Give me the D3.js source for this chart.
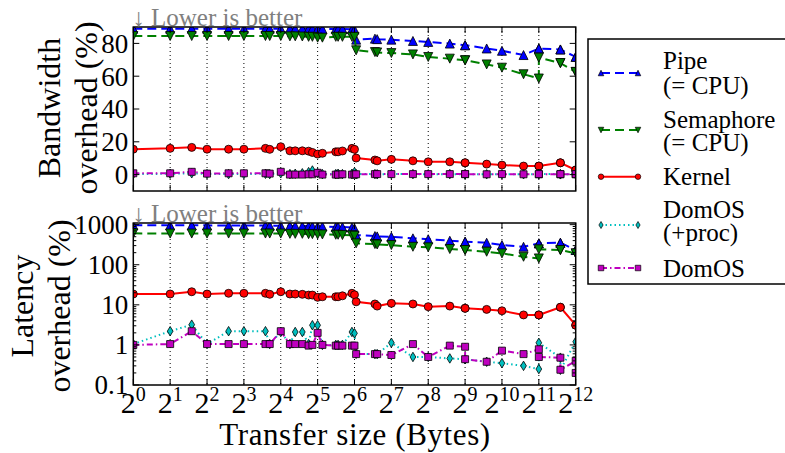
<!DOCTYPE html>
<html>
<head>
<meta charset="utf-8">
<script src="https://d3js.org/d3.v7.min.js"></script>
<style>
  body { margin: 0; background: #fff; }
  svg { display: block; }
  text, tspan { font-family: "Liberation Serif", "Times New Roman", serif; }
</style>
</head>
<body>
<svg id="chart" width="785" height="453" font-family="Liberation Serif, serif"></svg>
<script>
"use strict"

// transfer sizes in bytes (some sizes measured twice)
const sizes = [1, 2, 3, 4, 6, 8, 12, 13, 16, 19, 21, 24, 27, 29, 32, 35, 45, 47, 51, 61, 64, 66,
    94, 98, 128, 192, 256, 384, 512, 512, 768, 1024, 1536, 2048, 2048, 3072, 3072, 4096, 4096]

// bandwidth overhead (%)
const pipeBw = [89, 89, 89, 89, 89, 89, 89, 89, 89, 89, 89, 89, 89, 89, 88.8, 88.8, 88.8, 88.8, 88.8, 88.6, 88.4,
    82.3, 82.9, 82.6, 82.3, 81.5, 80.9, 79.9, 78.9, 78.9, 76.9, 75.5, 72.9, 76.9, 76.9, 76.3, 76.3, 71.8, 71.8]
const semaBw = [84.5, 84.5, 84.5, 84.5, 84.5, 84.5, 84.5, 84.5, 84.5, 84.3, 84.3, 84.2, 84, 84, 83.5, 83.5, 84, 84, 84, 84, 84,
    75.8, 74.7, 74.5, 74.1, 73.3, 71.7, 70.7, 69.7, 69.7, 67.2, 65.2, 61.2, 58.6, 71.3, 68, 68, 62.6, 62.6]
const kernelBw = [15.5, 16, 16.6, 15.5, 15.5, 15.5, 16, 15.4, 17, 14.5, 14.5, 14.5, 14.3, 13.5, 12.5, 13, 13.9, 13.9, 14.4, 16, 15.4,
    10.1, 8.9, 8.4, 9.3, 8.4, 7.8, 7.8, 7.2, 7.2, 6.4, 5.8, 5.2, 5.2, 5.2, 7.2, 7.2, 2.8, 2.8]
const domosProcBw = [0.3, 0.5, 0.8, 0.3, 0.3, 0.3, 0.5, 0.3, 0.8, 0.3, 0.5, 0.8, 1.5, 2.5, 1, 0.3, 0.3, 0.5, 0.3, 0.5, 1.5,
    0.3, 0.3, 0.2, 0.3, 0.3, 0.2, 0.3, 0.2, 0.2, 0.2, 0.2, 0.2, 0.2, 0.5, 0.2, 0.2, 0.2, 0.2]
const domosBw = [0.8, 0.8, 1.7, 0.6, 0.8, 0.8, 0.8, 0.6, 1.7, 0, 0, 0, 0.2, 0.2, 1.1, 0, 0, 0, 0.2, 0, 0,
    0.2, 0.3, 0.3, 0.3, 0.3, 0.3, 0.3, 0.3, 0.3, 0.2, 0.3, 0.2, 0.2, 0.3, 0.2, 0.3, 0.2, 0.3]

// latency overhead (%)
const pipeLat = [970, 960, 960, 960, 950, 950, 950, 940, 940, 930, 930, 920, 920, 910, 900, 900, 880, 880, 870, 850, 810,
    549, 520, 510, 499, 456, 434, 397, 375, 375, 354, 310, 281, 342, 342, 354, 354, 233, 233]
const semaLat = [607, 600, 600, 600, 600, 600, 600, 600, 600, 590, 590, 590, 580, 580, 570, 570, 560, 560, 550, 545, 530,
    342, 328, 320, 310, 281, 272, 247, 233, 233, 211, 192, 158, 144, 242, 233, 233, 192, 192]
const kernelLat = [18.6, 18.6, 21.2, 18.6, 19.4, 19.4, 19.4, 18.3, 21.2, 18.6, 18.6, 18.3, 17.5, 17.5, 15.4, 15.9, 15.9, 15.9, 16.8, 19.4, 17.8,
    11.9, 10.5, 9.3, 10.9, 10.5, 9.0, 9.3, 8.2, 8.2, 7.7, 7.1, 5.6, 5.6, 5.6, 8.7, 8.7, 3.1, 3.1]
const domosProcLat = [1.05, 2.2, 3.2, 1.05, 2.2, 2.2, 2.2, 1.05, 2.1, 1.05, 2.1, 2.1, 1.05, 3.1, 3.1, 1.0, 1.0, 1.0, 1.0, 2.1, 1.95,
    0.6, 0.59, 0.59, 1.13, 0.5, 0.5, 0.46, 0.44, 0.44, 0.38, 0.35, 0.3, 0.25, 1.13, 0.48, 0.24, 1.2, 0.2]
const domosLat = [1.0, 1.05, 2.2, 1.05, 1.05, 1.05, 1.05, 1.05, 2.2, 1.05, 1.05, 1.05, 0.96, 1.0, 2.0, 1.0, 0.96, 0.96, 0.96, 0.96, 0.96,
    0.59, 0.59, 0.59, 0.56, 1.05, 0.5, 0.96, 0.9, 0.44, 0.38, 0.72, 0.59, 0.78, 0.5, 0.48, 0.24, 0.4, 0.2]

const seriesNames = [["Pipe", "(= CPU)"], ["Semaphore", "(= CPU)"], ["Kernel"], ["DomOS", "(+proc)"], ["DomOS"]]
const bwTicks = [0, 20, 40, 60, 80]
const latTicks = [0.1, 1, 10, 100, 1000]
const xExponents = d3.range(0, 13)

const FONT = "'Liberation Serif', 'Times New Roman', serif"

const styles = [
    {color: "#0000ff", dash: "9,5", shape: "up"},
    {color: "#008000", dash: "9,5", shape: "down"},
    {color: "#ff0000", dash: null, shape: "circle"},
    {color: "#00bfbf", dash: "1.5,3", shape: "diamond"},
    {color: "#bf00bf", dash: "6,3,1.5,3", shape: "square"}
]

const svg = d3.select("#chart")
svg.append("rect").attr("width", 785).attr("height", 453).attr("fill", "#fff")

const x = d3.scaleLog().base(2).domain([1, 4096]).range([133.3, 575.7])

const panels = [
    {id: "bw", top: 27, bottom: 191,
     y: d3.scaleLinear().domain([-10, 90]).range([191, 27]),
     ticks: bwTicks, minor: [], data: [pipeBw, semaBw, kernelBw, domosProcBw, domosBw],
     label: ["Bandwidth", "overhead (%)"], labelX: [60, 97], labelY: 108, xLabels: false},
    {id: "lat", top: 223, bottom: 385,
     y: d3.scaleLog().domain([0.1, 1100]).range([385, 223]),
     ticks: latTicks, data: [pipeLat, semaLat, kernelLat, domosProcLat, domosLat],
     label: ["Latency", "overhead (%)"], labelX: [33, 70], labelY: 306, xLabels: true}
]
panels[1].minor = []
latTicks.forEach(d => { for (let k = 2; k <= 9; ++k) if (d * k < 1100) panels[1].minor.push(d * k) })

function markerPath(shape, s) {
    const h = s / 2
    if (shape === "up") return "M0," + (-h) + "L" + h + "," + h + "L" + (-h) + "," + h + "Z"
    if (shape === "down") return "M0," + h + "L" + h + "," + (-h) + "L" + (-h) + "," + (-h) + "Z"
    if (shape === "square") return "M" + (-h) + "," + (-h) + "h" + s + "v" + s + "h" + (-s) + "Z"
    if (shape === "diamond") return "M0," + (-h) + "L" + (h * 0.6) + ",0L0," + h + "L" + (-h * 0.6) + ",0Z"
    return d3.symbol(d3.symbolCircle, Math.PI * h * h)()
}
const markerSize = {up: 9, down: 9, circle: 8, diamond: 9.5, square: 7}

panels.forEach(p => {
    const g = svg.append("g").attr("id", "panel-" + p.id)
    const x0 = x.range()[0], x1 = x.range()[1]

    g.append("clipPath").attr("id", "clip-" + p.id)
        .append("rect").attr("x", x0).attr("y", p.top).attr("width", x1 - x0).attr("height", p.bottom - p.top)

    // vertical dotted grid
    g.selectAll(".grid").data(xExponents.slice(1, -1)).enter().append("line")
        .attr("class", "grid")
        .attr("x1", d => x(Math.pow(2, d))).attr("x2", d => x(Math.pow(2, d)))
        .attr("y1", p.top).attr("y2", p.bottom)
        .attr("stroke", "#000").attr("stroke-width", 1).attr("stroke-dasharray", "1,3")

    const plot = g.append("g").attr("clip-path", "url(#clip-" + p.id + ")")
    p.data.forEach((vals, si) => {
        const st = styles[si]
        const pts = sizes.map((s, i) => [x(s), p.y(vals[i])])
        plot.append("path")
            .attr("d", d3.line()(pts))
            .attr("fill", "none")
            .attr("stroke", st.color)
            .attr("stroke-width", 2)
            .attr("stroke-dasharray", st.dash)
        plot.selectAll(".m" + si).data(pts).enter().append("path")
            .attr("class", "m" + si)
            .attr("d", markerPath(st.shape, markerSize[st.shape]))
            .attr("transform", d => "translate(" + d[0] + "," + d[1] + ")")
            .attr("fill", st.color)
            .attr("stroke", "#000")
            .attr("stroke-width", 0.8)
    })

    // ticks on all four spines
    const tk = g.append("g").attr("stroke", "#000").attr("stroke-width", 1)
    p.ticks.forEach(v => {
        const yy = p.y(v)
        tk.append("line").attr("x1", x0).attr("x2", x0 + 6).attr("y1", yy).attr("y2", yy)
        tk.append("line").attr("x1", x1).attr("x2", x1 - 6).attr("y1", yy).attr("y2", yy)
    })
    p.minor.forEach(v => {
        const yy = p.y(v)
        tk.append("line").attr("x1", x0).attr("x2", x0 + 3).attr("y1", yy).attr("y2", yy)
        tk.append("line").attr("x1", x1).attr("x2", x1 - 3).attr("y1", yy).attr("y2", yy)
    })
    xExponents.forEach(e => {
        const xx = x(Math.pow(2, e))
        tk.append("line").attr("x1", xx).attr("x2", xx).attr("y1", p.bottom).attr("y2", p.bottom - 6)
        tk.append("line").attr("x1", xx).attr("x2", xx).attr("y1", p.top).attr("y2", p.top + 6)
    })

    g.append("rect").attr("x", x0).attr("y", p.top).attr("width", x1 - x0).attr("height", p.bottom - p.top)
        .attr("fill", "none").attr("stroke", "#000").attr("stroke-width", 1.5)

    // y tick labels
    g.selectAll(".ylab").data(p.ticks).enter().append("text")
        .attr("class", "ylab")
        .attr("x", x0 - 5).attr("y", d => p.y(d))
        .attr("dy", "0.35em")
        .attr("text-anchor", "end")
        .style("font-family", FONT)
        .style("font-size", "27px")
        .text(d => d)

    // y axis title (two lines)
    p.label.forEach((t, i) => {
        g.append("text")
            .attr("transform", "translate(" + p.labelX[i] + "," + p.labelY + ") rotate(-90)")
            .attr("text-anchor", "middle")
            .style("font-family", FONT)
            .style("font-size", "32px")
            .text(t)
    })

    g.append("text")
        .attr("x", x0 - 1).attr("y", p.top - 1)
        .attr("fill", "#808080")
        .style("font-family", FONT)
        .style("font-size", "25px")
        .text("\u2193 Lower is better")

    if (p.xLabels) {
        xExponents.forEach(e => {
            const t = g.append("text")
                .attr("x", x(Math.pow(2, e))).attr("y", 413)
                .attr("text-anchor", "middle")
                .style("font-family", FONT)
                .style("font-size", "30px")
            t.append("tspan").text("2")
            t.append("tspan").attr("dy", -12).style("font-size", "20px").text(e)
        })
    }
})

svg.append("text")
    .attr("x", 355).attr("y", 445)
    .attr("text-anchor", "middle")
    .style("font-family", FONT)
    .style("font-size", "31px")
    .style("letter-spacing", "0.6px")
    .text("Transfer size (Bytes)")

// legend
const legend = svg.append("g").attr("id", "legend")
legend.append("rect").attr("x", 588).attr("y", 39).attr("width", 220).attr("height", 245)
    .attr("fill", "#fff").attr("stroke", "#000").attr("stroke-width", 1.5)
const legendY = [73, 130, 176.7, 225, 268]
const legendText = [[60, 85], [119, 142], [176.7], [209, 232], [268]]
seriesNames.forEach((lines, i) => {
    const st = styles[i]
    legend.append("line")
        .attr("x1", 601).attr("x2", 638).attr("y1", legendY[i]).attr("y2", legendY[i])
        .attr("stroke", st.color).attr("stroke-width", 2).attr("stroke-dasharray", st.dash)
    ;[601, 638].forEach(mx => {
        legend.append("path")
            .attr("d", markerPath(st.shape, st.shape === "diamond" ? 7 : 5.5))
            .attr("transform", "translate(" + mx + "," + legendY[i] + ")")
            .attr("fill", st.color).attr("stroke", "#000").attr("stroke-width", 0.7)
    })
    lines.forEach((t, j) => {
        legend.append("text")
            .attr("x", 663).attr("y", legendText[i][j])
            .attr("dy", "0.35em")
            .style("font-family", FONT)
            .style("font-size", "25px")
            .text(t)
    })
})
</script>
</body>
</html>
